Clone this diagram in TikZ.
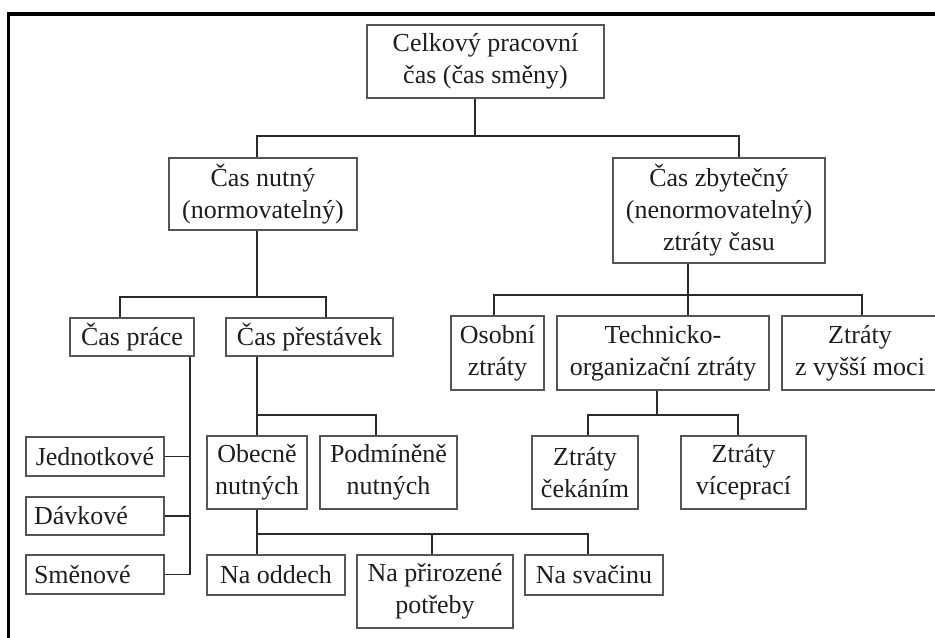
\documentclass[tikz,border=0pt]{standalone}
\usepackage{fontspec}
\setmainfont{Liberation Serif}
\usepackage{xcolor}
\usetikzlibrary{calc}
\definecolor{cbox}{HTML}{555555}
\definecolor{clink}{HTML}{2A2A2A}
\definecolor{cink}{HTML}{1E1E1E}
\tikzset{
  box/.style={draw=cbox,line width=0.9pt,align=center,inner sep=0pt,text=cink},
  boxl/.style={box,align=left,text width=#1},
  link/.style={draw=clink,line width=1.4pt},
  frame/.style={line width=2.3pt,black}
}

\begin{document}
\begin{tikzpicture}[x=0.75pt,y=-0.75pt,font=\fontsize{19.5}{24}\selectfont]
\useasboundingbox (0,0) rectangle (935,637);

% ============ frame (cut off at right and bottom) ============
\draw[frame] (8.5,660) -- (8.5,14) -- (960,14);

% ============ level 0 and 1 ============
\node[box,minimum width=237*0.75pt,minimum height=73*0.75pt] (root) at (485.5,61.5)
  {Celkový pracovní\\čas (čas směny)};
\node[box,minimum width=188*0.75pt,minimum height=72*0.75pt] (nutny) at (263,194)
  {Čas nutný\\(normovatelný)};
\node[box,minimum width=212*0.75pt,minimum height=105*0.75pt] (zbyt) at (719,210.5)
  {Čas zbytečný\\(nenormovatelný)\\ztráty času};

% ============ necessary time ============
\node[box,minimum width=124*0.75pt,minimum height=38*0.75pt] (prace) at (132,337) {Čas práce};
\node[box,minimum width=167*0.75pt,minimum height=38*0.75pt] (prest) at (309.5,337) {Čas přestávek};
\node[box,minimum width=138*0.75pt,minimum height=39*0.75pt] (jedn) at (95,456.5) {Jednotkové};
\node[boxl=122*0.75pt,inner xsep=6pt,minimum height=38*0.75pt] (davk) at (95,516) {Dávkové};
\node[boxl=122*0.75pt,inner xsep=6pt,minimum height=39*0.75pt] (smen) at (95,574.5) {Směnové};
\node[box,minimum width=100*0.75pt,minimum height=73*0.75pt] (obecne) at (257,472.5) {Obecně\\nutných};
\node[box,minimum width=137*0.75pt,minimum height=73*0.75pt] (podmin) at (388.5,472.5) {Podmíněně\\nutných};
\node[box,minimum width=138*0.75pt,minimum height=40*0.75pt] (oddech) at (276,575) {Na oddech};
\node[box,minimum width=156*0.75pt,minimum height=73*0.75pt] (prirozene) at (435,591.5) {Na přirozené\\potřeby};
\node[box,minimum width=138*0.75pt,minimum height=40*0.75pt] (svacinu) at (594,575) {Na svačinu};

% ============ wasted time ============
\node[box,minimum width=93*0.75pt,minimum height=74*0.75pt] (osobni) at (497.5,353) {Osobní\\ztráty};
\node[box,minimum width=212*0.75pt,minimum height=74*0.75pt] (tech) at (663,353) {Technicko-\\organizační ztráty};
\node[box,minimum width=156*0.75pt,minimum height=74*0.75pt] (vyssi) at (860,353) {Ztráty\\z vyšší moci};
\node[box,minimum width=106*0.75pt,minimum height=73*0.75pt] (cekani) at (585,472.5) {Ztráty\\čekáním};
\node[box,minimum width=125*0.75pt,minimum height=73*0.75pt] (vicepr) at (743.5,472.5) {Ztráty\\víceprací};

% ============ connectors ============
\draw[link] ($(root.south)+(-10.5,0)$) -- ++(0,37) -| ($(nutny.north)+(-6,0)$);
\draw[link] ($(root.south)+(-10.5,0)$) -- ++(0,37) -| ($(zbyt.north)+(20,0)$);

\draw[link] ($(nutny.south)+(-6,0)$) -- ++(0,66) -| ($(prace.north)+(-12,0)$);
\draw[link] ($(nutny.south)+(-6,0)$) -- ++(0,66) -| ($(prest.north)+(16.5,0)$);

\draw[link] ($(prace.south east)+(-5,0)$) |- (smen.east);
\draw[link] ($(prace.south east)+(-5,0)$) |- (davk.east);
\draw[link] ($(prace.south east)+(-5,0)$) |- (jedn.east);

\draw[link] ($(prest.south)+(-52.5,0)$) -- ++(0,58) -| (obecne.north);
\draw[link] ($(prest.south)+(-52.5,0)$) -- ++(0,58) -| ($(podmin.north)+(-12.5,0)$);

\draw[link] (obecne.south) -- ++(0,24) -| ($(oddech.north)+(-19,0)$);
\draw[link] (obecne.south) -- ++(0,24) -| ($(prirozene.north)+(-3,0)$);
\draw[link] (obecne.south) -- ++(0,24) -| ($(svacinu.north)+(-6,0)$);

\draw[link] ($(zbyt.south)+(-31,0)$) -- ++(0,31) -| ($(osobni.north)+(-3.5,0)$);
\draw[link] ($(zbyt.south)+(-31,0)$) -- ++(0,31) -| ($(tech.north)+(25,0)$);
\draw[link] ($(zbyt.south)+(-31,0)$) -- ++(0,31) -| ($(vyssi.north)+(2,0)$);

\draw[link] ($(tech.south)+(-6,0)$) -- ++(0,24) -| ($(cekani.north)+(3,0)$);
\draw[link] ($(tech.south)+(-6,0)$) -- ++(0,24) -| ($(vicepr.north)+(-5.5,0)$);

\end{tikzpicture}
\end{document}
